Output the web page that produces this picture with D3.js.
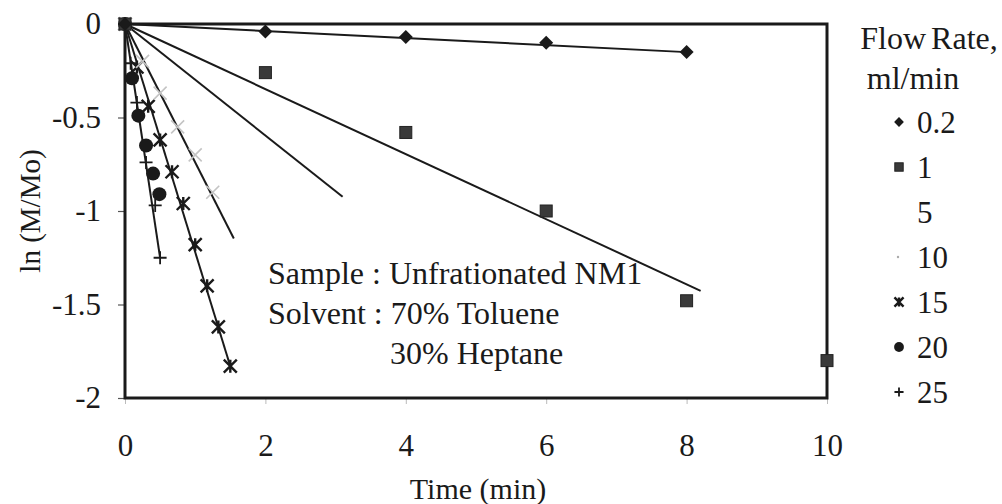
<!DOCTYPE html>
<html>
<head>
<meta charset="utf-8">
<script src="https://cdn.jsdelivr.net/npm/d3@7"></script>
<style>
  html, body { margin: 0; padding: 0; background: #fff; }
  svg { display: block; }
  svg text { font-family: "Liberation Serif", "Times New Roman", serif; fill: #1a1a1a; }
</style>
</head>
<body>
<svg id="chart" width="1002" height="504"></svg>
<script>
// Flow rates (ml/min) shown in the legend
const flowRates = ["0.2", "1", "5", "10", "15", "20", "25"];

// Measured ln(M/Mo) versus time (min) for each flow rate
const time02 = [0, 2, 4, 6, 8];
const lnM02  = [0, -0.04, -0.07, -0.10, -0.15];

const time1 = [0, 2, 4, 6, 8, 10];
const lnM1  = [0, -0.26, -0.58, -1.00, -1.48, -1.80];

const time5 = [0];
const lnM5  = [0];

const time10 = [0, 0.25, 0.5, 0.75, 1.0, 1.25];
const lnM10  = [0, -0.20, -0.37, -0.55, -0.70, -0.90];

const time15 = [0, 0.17, 0.33, 0.5, 0.67, 0.83, 1.0, 1.17, 1.33, 1.5];
const lnM15  = [0, -0.23, -0.44, -0.62, -0.79, -0.96, -1.18, -1.40, -1.62, -1.83];

const time20 = [0, 0.1, 0.19, 0.3, 0.4, 0.49];
const lnM20  = [0, -0.29, -0.49, -0.65, -0.80, -0.91];

const time25 = [0, 0.08, 0.17, 0.3, 0.43, 0.5];
const lnM25  = [0, -0.21, -0.42, -0.74, -0.97, -1.25];

// Linear fits through the origin: slope and last time of each fitted line
const fitSlope = [-0.0188, -0.174, -0.298, -0.74, -1.22, null, -2.5];
const fitEnd   = [8.0, 8.2, 3.1, 1.55, 1.5, null, 0.5];

// Axis ticks
const xTicks = [0, 2, 4, 6, 8, 10];
const yTicks = [0, -0.5, -1, -1.5, -2];

// Annotation lines inside the plot
const noteLines = ["Sample : Unfrationated NM1", "Solvent : 70% Toluene", "30% Heptane"];

const seriesTimes = [time02, time1, time5, time10, time15, time20, time25];
const seriesVals  = [lnM02, lnM1, lnM5, lnM10, lnM15, lnM20, lnM25];
const markerKind  = ["diamond", "square", "none", "xlight", "asterisk", "circle", "plus"];

const FS = 31;
const svg = d3.select("#chart");
const x = d3.scaleLinear().domain([0, 10]).range([125, 827]);
const y = d3.scaleLinear().domain([-2, 0]).range([398, 24]);

// Axes
const xAxis = d3.axisBottom(x).tickValues(xTicks).tickSize(6).tickPadding(30)
  .tickFormat(d => String(d));
const yAxis = d3.axisLeft(y).tickValues(yTicks).tickSize(7).tickPadding(17)
  .tickFormat(d => String(d));

const gx = svg.append("g").attr("transform", `translate(0,${y(-2)})`).call(xAxis)
  .attr("font-family", null).attr("font-size", null);
gx.select(".domain").remove();
gx.selectAll(".tick line").attr("stroke", "#bbb").attr("stroke-width", 1);
gx.selectAll(".tick text").attr("font-size", FS).attr("fill", "#1a1a1a");

const gy = svg.append("g").attr("transform", `translate(${x(0)},0)`).call(yAxis)
  .attr("font-family", null).attr("font-size", null);
gy.select(".domain").remove();
gy.selectAll(".tick line").attr("stroke", "#555").attr("stroke-width", 1.2);
gy.selectAll(".tick text").attr("font-size", FS).attr("fill", "#1a1a1a");

// Plot frame
svg.append("rect")
  .attr("x", x(0)).attr("y", y(0))
  .attr("width", x(10) - x(0)).attr("height", y(-2) - y(0))
  .attr("fill", "none").attr("stroke", "#1a1a1a").attr("stroke-width", 3);

// Axis titles
svg.append("text")
  .attr("x", (x(0) + x(10)) / 2 + 2).attr("y", 499)
  .attr("text-anchor", "middle").attr("font-size", 30)
  .text("Time (min)");
svg.append("text")
  .attr("transform", `translate(40,${(y(0) + y(-2)) / 2}) rotate(-90)`)
  .attr("text-anchor", "middle").attr("font-size", 29)
  .text("ln (M/Mo)");

// Fitted lines
const plot = svg.append("g");
flowRates.forEach((fr, i) => {
  if (fitSlope[i] === null) return;
  plot.append("line")
    .attr("x1", x(0)).attr("y1", y(0))
    .attr("x2", x(fitEnd[i])).attr("y2", y(fitSlope[i] * fitEnd[i]))
    .attr("stroke", "#1a1a1a").attr("stroke-width", 2);
});

// Marker drawing
function drawMarker(g, kind, cx, cy, scale) {
  const s = scale || 1;
  if (kind === "diamond") {
    const r = 7 * s;
    g.append("path").attr("d", `M${cx},${cy - r}L${cx + r},${cy}L${cx},${cy + r}L${cx - r},${cy}Z`)
      .attr("fill", "#1a1a1a");
  } else if (kind === "square") {
    const h = 6 * s;
    g.append("rect").attr("x", cx - h).attr("y", cy - h).attr("width", 2 * h).attr("height", 2 * h)
      .attr("fill", "#3a3a3a").attr("stroke", "#222").attr("stroke-width", 1);
  } else if (kind === "circle") {
    g.append("circle").attr("cx", cx).attr("cy", cy).attr("r", 7 * s).attr("fill", "#1a1a1a");
  } else if (kind === "asterisk") {
    const h = 6.5 * s;
    g.append("path")
      .attr("d", `M${cx - h},${cy - h}L${cx + h},${cy + h}M${cx - h},${cy + h}L${cx + h},${cy - h}M${cx},${cy - h}L${cx},${cy + h}`)
      .attr("stroke", "#1a1a1a").attr("stroke-width", 2.4).attr("fill", "none");
  } else if (kind === "xlight") {
    const h = 6.5 * s;
    g.append("path")
      .attr("d", `M${cx - h},${cy - h}L${cx + h},${cy + h}M${cx - h},${cy + h}L${cx + h},${cy - h}`)
      .attr("stroke", "#c4c4c4").attr("stroke-width", 1.6).attr("fill", "none");
  } else if (kind === "plus") {
    const h = 6.5 * s;
    g.append("path")
      .attr("d", `M${cx - h},${cy}L${cx + h},${cy}M${cx},${cy - h}L${cx},${cy + h}`)
      .attr("stroke", "#1a1a1a").attr("stroke-width", 1.8).attr("fill", "none");
  }
}

// Data markers (drawn in reverse so the low flow markers sit on top at the origin)
const marks = svg.append("g");
for (let i = flowRates.length - 1; i >= 0; i--) {
  seriesTimes[i].forEach((t, j) => {
    drawMarker(marks, markerKind[i], x(t), y(seriesVals[i][j]));
  });
}

// Annotation
const note = svg.append("g").attr("font-size", 32);
note.append("text").attr("x", 268).attr("y", 284).text(noteLines[0]);
note.append("text").attr("x", 268).attr("y", 324).text(noteLines[1]);
note.append("text").attr("x", 390).attr("y", 364).text(noteLines[2]);

// Legend
const legend = svg.append("g");
legend.append("text").attr("x", 929).attr("y", 49).attr("text-anchor", "middle")
  .attr("font-size", 32).attr("word-spacing", -3).text("Flow Rate,");
legend.append("text").attr("x", 913).attr("y", 89).attr("text-anchor", "middle")
  .attr("font-size", 32).text("ml/min");
const rowY = d3.scaleLinear().domain([0, flowRates.length - 1]).range([122, 392]);
flowRates.forEach((fr, i) => {
  const cy = rowY(i);
  if (markerKind[i] === "xlight") {
    legend.append("circle").attr("cx", 898).attr("cy", cy).attr("r", 1.2).attr("fill", "#aaa");
  } else {
    drawMarker(legend, markerKind[i], 899, cy, 0.7);
  }
  legend.append("text").attr("x", 917).attr("y", cy + 11).attr("font-size", FS).text(fr);
});
</script>
</body>
</html>
